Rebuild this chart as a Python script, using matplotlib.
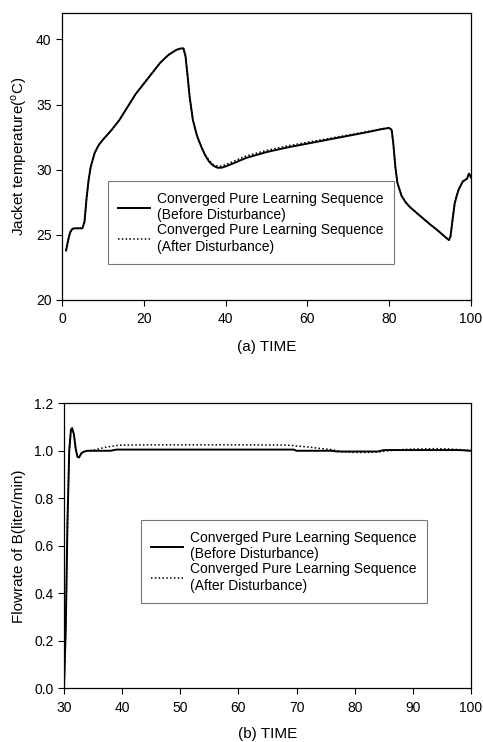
import matplotlib
matplotlib.use('Agg')
import matplotlib.pyplot as plt

plt.rcParams['font.family'] = ['Liberation Sans', 'DejaVu Sans']
plt.rcParams['mathtext.fontset'] = 'custom'
plt.rcParams['mathtext.rm'] = 'Liberation Sans'
plt.rcParams['font.size'] = 10

# (a) jacket temperature
t_a = [1, 1.5, 2, 2.5, 3, 4, 5, 5.5, 6, 6.5, 7, 8, 9, 10, 12, 14, 16, 18, 20, 22, 24, 26, 28,
       29, 29.7, 30.2, 30.7, 31.2, 32, 33, 34, 35, 36, 37, 38, 39, 40, 42, 45, 50, 55, 60,
       65, 70, 75, 78, 80, 80.6, 81, 81.5, 82, 83, 84, 85, 87, 90, 92, 94, 94.6, 95, 95.5,
       96, 96.5, 97, 98, 99, 99.5, 100]
temp_before = [23.8, 24.6, 25.2, 25.45, 25.5, 25.5, 25.5, 26.0, 27.8, 29.2, 30.2, 31.3, 31.9,
               32.3, 33.0, 33.8, 34.8, 35.8, 36.6, 37.4, 38.2, 38.8, 39.2, 39.3, 39.3, 38.7,
               37.2, 35.6, 33.8, 32.6, 31.8, 31.1, 30.6, 30.3, 30.15, 30.15, 30.25, 30.5,
               30.9, 31.35, 31.7, 32.0, 32.3, 32.6, 32.9, 33.1, 33.2, 33.05, 32.0, 30.2, 29.0,
               28.0, 27.5, 27.15, 26.6, 25.8, 25.3, 24.75, 24.6, 24.9, 26.2, 27.4, 28.0, 28.5,
               29.1, 29.3, 29.7, 29.4]
temp_after = [23.8, 24.6, 25.2, 25.45, 25.5, 25.5, 25.5, 26.0, 27.8, 29.2, 30.2, 31.3, 31.9,
              32.3, 33.0, 33.8, 34.8, 35.8, 36.6, 37.4, 38.2, 38.8, 39.2, 39.3, 39.3, 38.7,
              37.2, 35.6, 33.8, 32.6, 31.8, 31.15, 30.7, 30.4, 30.28, 30.27, 30.38, 30.65,
              31.05, 31.48, 31.82, 32.1, 32.38, 32.66, 32.95, 33.13, 33.22, 33.05, 32.0,
              30.2, 29.0, 28.0, 27.5, 27.15, 26.6, 25.8, 25.3, 24.75, 24.6, 24.9, 26.2, 27.4,
              28.0, 28.5, 29.1, 29.3, 29.7, 29.4]

# (b) flowrate of B
t_b = [30, 30.3, 30.6, 30.9, 31.2, 31.4, 31.7, 32.0, 32.3, 32.6, 33.0, 33.5, 34, 35, 36, 37,
       38, 39, 40, 45, 50, 60, 68, 69.5, 70, 72, 74, 76, 77, 78, 80, 82, 84, 85, 86, 88, 90,
       92, 94, 96, 98, 100]
flow_before = [0.0, 0.25, 0.7, 1.0, 1.09, 1.095, 1.07, 1.01, 0.975, 0.972, 0.99, 0.997, 1.0,
               1.0, 1.0, 1.0, 1.0, 1.005, 1.005, 1.005, 1.005, 1.005, 1.005, 1.005, 1.0,
               1.0, 1.0, 1.0, 0.997, 0.997, 0.997, 0.997, 0.997, 1.003, 1.003, 1.003, 1.003,
               1.003, 1.003, 1.003, 1.003, 1.0]
flow_after = [0.0, 0.25, 0.7, 1.0, 1.09, 1.095, 1.07, 1.01, 0.975, 0.972, 0.99, 0.997, 1.0,
              1.002, 1.008, 1.014, 1.018, 1.022, 1.024, 1.025, 1.025, 1.025, 1.024, 1.022,
              1.02, 1.016, 1.01, 1.005, 1.0, 0.995, 0.993, 0.993, 0.995, 0.998, 1.001,
              1.005, 1.007, 1.008, 1.009, 1.008, 1.005, 1.0]

lab_before = 'Converged Pure Learning Sequence\n(Before Disturbance)'
lab_after = 'Converged Pure Learning Sequence\n(After Disturbance)'

fig = plt.figure(figsize=(4.83, 7.42), dpi=100)

ax1 = fig.add_axes([0.1284, 0.5957, 0.8468, 0.3864])
ax1.plot(t_a, temp_before, color='black', lw=1.4, label=lab_before)
ax1.plot(t_a, temp_after, color='black', lw=1.1, ls=(0, (1, 1.5)), label=lab_after)
ax1.set_xlim(0, 100)
ax1.set_ylim(20, 42)
ax1.set_xticks([0, 20, 40, 60, 80, 100])
ax1.set_yticks([20, 25, 30, 35, 40])
ax1.set_xlabel('(a) TIME', fontsize=11, labelpad=10)
ax1.set_ylabel(r'Jacket temperature($^{\mathrm{o}}$C)', fontsize=11, labelpad=5)
leg1 = ax1.legend(loc='lower left', bbox_to_anchor=(0.1125, 0.1256), borderaxespad=0,
                  fancybox=False, edgecolor='#777777', framealpha=1, handlelength=2.3,
                  handletextpad=0.5, borderpad=0.75, labelspacing=0.1, fontsize=10)
leg1.get_frame().set_linewidth(0.8)

ax2 = fig.add_axes([0.1325, 0.0724, 0.8427, 0.3841])
ax2.plot(t_b, flow_before, color='black', lw=1.4, label=lab_before)
ax2.plot(t_b, flow_after, color='black', lw=1.1, ls=(0, (1, 1.5)), label=lab_after)
ax2.set_xlim(30, 100)
ax2.set_ylim(0, 1.2)
ax2.set_xticks([30, 40, 50, 60, 70, 80, 90, 100])
ax2.set_yticks([0.0, 0.2, 0.4, 0.6, 0.8, 1.0, 1.2])
ax2.set_yticklabels(['0.0', '0.2', '0.4', '0.6', '0.8', '1.0', '1.2'])
ax2.set_xlabel('(b) TIME', fontsize=11, labelpad=9)
ax2.set_ylabel('Flowrate of B(liter/min)', fontsize=11, labelpad=6)
leg2 = ax2.legend(loc='lower left', bbox_to_anchor=(0.189, 0.299), borderaxespad=0,
                  fancybox=False, edgecolor='#777777', framealpha=1, handlelength=2.3,
                  handletextpad=0.5, borderpad=0.75, labelspacing=0.1, fontsize=10)
leg2.get_frame().set_linewidth(0.8)

for ax in (ax1, ax2):
    ax.tick_params(direction='out', length=4, width=0.8, labelsize=10, colors='black')
    ax.tick_params(axis='x', pad=5)
    for sp in ax.spines.values():
        sp.set_linewidth(0.9)

plt.savefig('out.png', dpi=100)
